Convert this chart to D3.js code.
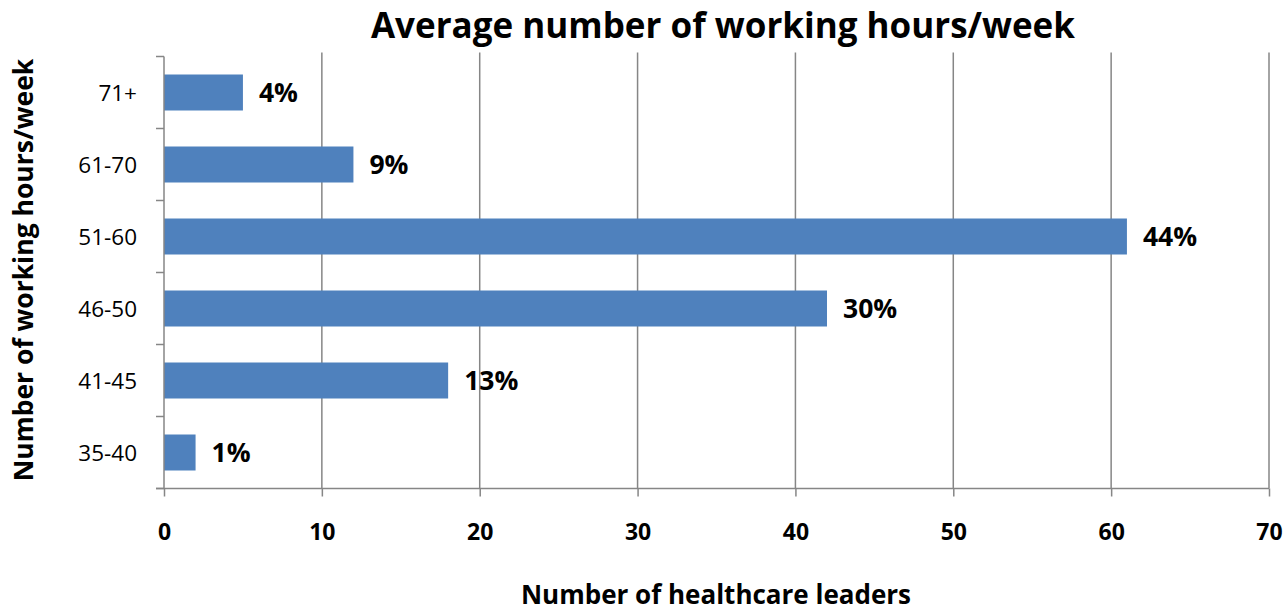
<!DOCTYPE html>
<html><head><meta charset="utf-8">
<script src="https://cdn.jsdelivr.net/npm/d3@7"></script>
<style>body{margin:0;background:#fff}svg{display:block}text{font-family:"Open Sans",sans-serif}</style>
</head><body><svg id="c" width="1284" height="611"></svg>
<script>
const categories = ["35-40","41-45","46-50","51-60","61-70","71+"];
const values = [2,18,42,61,12,5];
const labels = ["1%","13%","30%","44%","9%","4%"];
const xTicks = [0,10,20,30,40,50,60,70];

const svg = d3.select("#c");
const L=164, R=1269, T=56.5, B=488.5;
const x = d3.scaleLinear().domain([0,70]).range([L,R]);
const y = d3.scaleBand().domain(categories.slice().reverse()).range([T,B]).paddingInner(0.5).paddingOuter(0.25);
const grey="#868686";

// gridlines
svg.append("g").selectAll("line").data(xTicks.slice(1)).join("line")
  .attr("x1",d=>x(d)).attr("x2",d=>x(d)).attr("y1",T-4).attr("y2",B)
  .attr("stroke",grey).attr("stroke-width",1.5);

// bars
svg.append("g").selectAll("rect").data(categories).join("rect")
  .attr("x",x(0)).attr("y",d=>y(d)).attr("height",y.bandwidth())
  .attr("width",(d,i)=>x(values[i])-x(0)).attr("fill","#4F81BD");

// value labels
svg.append("g").selectAll("text").data(categories).join("text")
  .attr("x",(d,i)=>x(values[i])+16).attr("y",d=>y(d)+y.bandwidth()/2)
  .attr("dy","0.36em").attr("font-size",26.5).attr("font-weight","bold").attr("fill","#000")
  .text((d,i)=>labels[i]);

// x axis
const xa = svg.append("g").attr("transform",`translate(0,${B})`)
  .call(d3.axisBottom(x).tickValues(xTicks).tickSize(8).tickPadding(0).tickSizeOuter(0));
xa.select(".domain").attr("stroke",grey).attr("stroke-width",1.5).attr("d",`M${L-8},0H${R}`);
xa.selectAll(".tick line").attr("stroke",grey).attr("stroke-width",1.5);
xa.selectAll(".tick text").attr("font-size",23).attr("font-weight","bold").attr("fill","#000")
  .attr("font-family","'Open Sans', sans-serif").attr("dy",null).attr("y",51);

// y axis: ticks at boundaries
const step = (B-T)/categories.length;
const yb = d3.range(categories.length+1).map(i=>T+i*step);
svg.append("line").attr("x1",L).attr("x2",L).attr("y1",T).attr("y2",B).attr("stroke",grey).attr("stroke-width",1.5);
svg.append("g").selectAll("line").data(yb).join("line")
  .attr("x1",L-8).attr("x2",L).attr("y1",d=>d).attr("y2",d=>d).attr("stroke",grey).attr("stroke-width",1.5);
svg.append("g").selectAll("text").data(categories).join("text")
  .attr("x",L-27).attr("y",d=>y(d)+y.bandwidth()/2).attr("dy","0.36em")
  .attr("text-anchor","end").attr("font-size",22.5).attr("fill","#000").text(d=>d);

// titles
svg.append("text").attr("x",723).attr("y",38).attr("text-anchor","middle")
  .attr("font-size",35).attr("font-weight","bold").text("Average number of working hours/week");
svg.append("text").attr("x",716).attr("y",604).attr("text-anchor","middle")
  .attr("font-size",26).attr("font-weight","bold").text("Number of healthcare leaders");
svg.append("text").attr("transform","translate(33,270) rotate(-90)").attr("text-anchor","middle")
  .attr("font-size",26.5).attr("font-weight","bold").text("Number of working hours/week");
</script></body></html>
